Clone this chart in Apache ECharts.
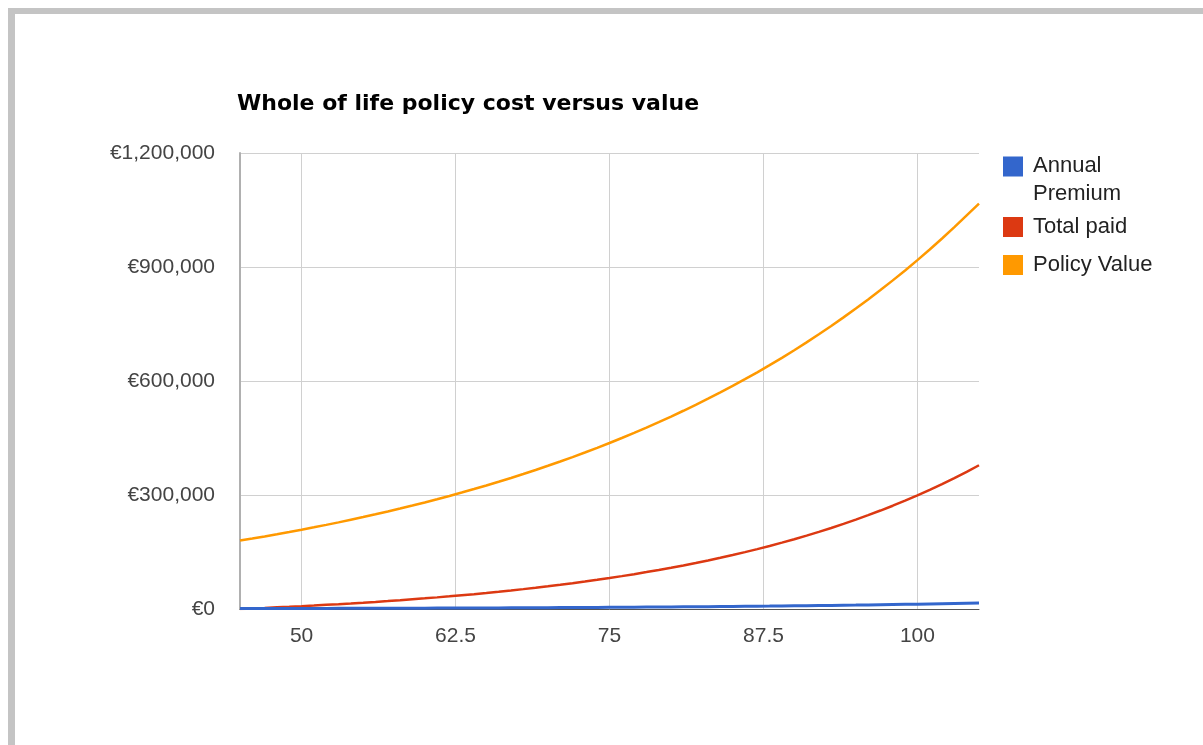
<!DOCTYPE html>
<html>
<head>
<meta charset="utf-8">
<title>Whole of life policy cost versus value</title>
<script src="https://cdn.jsdelivr.net/npm/echarts/dist/echarts.min.js"></script>
<style>
  html, body { margin: 0; padding: 0; background: #fff; overflow: hidden; }
  #wrap { position: relative; width: 1203px; height: 745px; }
  #frame {
    position: absolute; left: 8px; top: 8px; width: 1400px; height: 900px;
    border-left: 7px solid #c4c4c4; border-top: 6px solid #c4c4c4;
    pointer-events: none;
  }
  #chart { position: absolute; left: 0; top: 0; width: 1203px; height: 745px; }
</style>
</head>
<body>
<div id="wrap">
  <div id="chart"></div>
  <div id="frame"></div>
</div>
<script>
const ages = [45, 46, 47, 48, 49, 50, 51, 52, 53, 54, 55, 56, 57, 58, 59, 60, 61, 62, 63, 64,
    65, 66, 67, 68, 69, 70, 71, 72, 73, 74, 75, 76, 77, 78, 79, 80, 81, 82, 83, 84,
    85, 86, 87, 88, 89, 90, 91, 92, 93, 94, 95, 96, 97, 98, 99, 100, 101, 102, 103, 104, 105];

const annualPremium = [1200, 1250, 1310, 1370, 1430, 1490, 1550, 1620, 1690, 1770, 1850, 1930, 2010, 2100, 2190,
    2290, 2390, 2500, 2600, 2720, 2840, 2960, 3090, 3230, 3370, 3520, 3680, 3840, 4010, 4180,
    4370, 4560, 4760, 4970, 5190, 5420, 5650, 5900, 6160, 6430, 6720, 7010, 7320, 7640, 7980,
    8330, 8700, 9080, 9480, 9900, 10330, 10790, 11260, 11760, 12270, 12810, 13380, 13970, 14580, 15220, 15890];

const totalPaid = [0, 1400, 2800, 4300, 5800, 7400, 9100, 10900, 12700, 14600, 16600, 18700, 20900, 23200, 25600,
    28000, 30600, 33300, 36200, 39100, 42200, 45400, 48800, 52300, 55900, 59800, 63800, 67900, 72300, 76800,
    81500, 86500, 91700, 97100, 102700, 108600, 114700, 121100, 127800, 134800, 142100, 149700, 157600, 165900, 174600,
    183600, 193100, 202900, 213200, 223900, 235200, 246900, 259100, 271800, 285200, 299100, 313600, 328700, 344600, 361100, 378300];

const policyValue = [180000, 185400, 191000, 196700, 202600, 208700, 214900, 221400, 228000, 234900, 241900, 249200, 256600, 264300, 272300,
    280400, 288800, 297500, 306400, 315600, 325100, 334900, 344900, 355200, 365900, 376900, 388200, 399800, 411800, 424200,
    436900, 450000, 463500, 477400, 491700, 506500, 521700, 537300, 553500, 570100, 587200, 604800, 622900, 641600, 660900,
    681000, 701600, 722900, 744800, 767400, 790600, 814600, 839300, 864800, 891000, 918000, 946000, 975000, 1005000, 1036000, 1067000];

const xTicks = [50, 62.5, 75, 87.5, 100];
const seriesNames = ["Annual Premium", "Total paid", "Policy Value"];
const colors = ["#3366cc", "#dc3912", "#ff9900"];

const font = "'Liberation Sans', Arial, sans-serif";

const chart = echarts.init(document.getElementById("chart"));

const pairs = vals => ages.map((a, i) => [a, vals[i]]);

chart.setOption({
    animation: false,
    color: colors,
    title: {
        text: "Whole of life policy cost versus value",
        left: 237,
        top: 93,
        padding: 0,
        textStyle: {
            fontFamily: "'DejaVu Sans', sans-serif",
            fontWeight: "bold",
            fontSize: 22,
            color: "#000"
        }
    },
    legend: [
        {
            // swatch sits at the top of a taller box so the first text line lines up with it
            data: [seriesNames[0]],
            left: 1003,
            top: 152,
            padding: 0,
            icon: "path://M0,0H20V20H0Z M0,47H0.01V47.01H0Z",
            itemWidth: 20,
            itemHeight: 47,
            selectedMode: false,
            formatter: () => "Annual\nPremium",
            textStyle: {
                fontFamily: font,
                fontSize: 22,
                lineHeight: 28,
                color: "#222",
                padding: [0, 0, 0, 5]
            }
        },
        {
            data: seriesNames.slice(1),
            orient: "vertical",
            left: 1003,
            top: 216,
            padding: 0,
            itemGap: 16,
            icon: "rect",
            itemWidth: 20,
            itemHeight: 20,
            selectedMode: false,
            textStyle: {
                fontFamily: font,
                fontSize: 22,
                color: "#222",
                padding: [0, 0, 0, 5]
            }
        }
    ],
    grid: {
        left: 240,
        right: 224,
        top: 153,
        bottom: 136
    },
    xAxis: {
        type: "value",
        min: 45,
        max: 105,
        axisLine: { show: true, lineStyle: { color: "#555", width: 1 } },
        axisTick: { show: false, customValues: xTicks },
        axisLabel: {
            customValues: xTicks,
            margin: 17,
            fontFamily: font,
            fontSize: 21,
            color: "#444"
        },
        splitLine: { show: true, lineStyle: { color: "#d0d0d0", width: 1 } }
    },
    yAxis: {
        type: "value",
        min: 0,
        max: 1200000,
        interval: 300000,
        axisLine: { show: true, lineStyle: { color: "#b0b0b0", width: 2 } },
        axisTick: { show: false },
        axisLabel: {
            margin: 25,
            fontFamily: font,
            fontSize: 21,
            color: "#444",
            formatter: v => "€" + v.toLocaleString("en-US")
        },
        splitLine: { show: true, lineStyle: { color: "#d0d0d0", width: 1 } }
    },
    series: [
        {
            name: seriesNames[0],
            type: "line",
            data: pairs(annualPremium),
            showSymbol: false,
            lineStyle: { width: 3, color: colors[0] },
            z: 4
        },
        {
            name: seriesNames[1],
            type: "line",
            data: pairs(totalPaid),
            showSymbol: false,
            lineStyle: { width: 2.5, color: colors[1] },
            z: 3
        },
        {
            name: seriesNames[2],
            type: "line",
            data: pairs(policyValue),
            showSymbol: false,
            lineStyle: { width: 2.5, color: colors[2] },
            z: 2
        }
    ]
});
</script>
</body>
</html>
